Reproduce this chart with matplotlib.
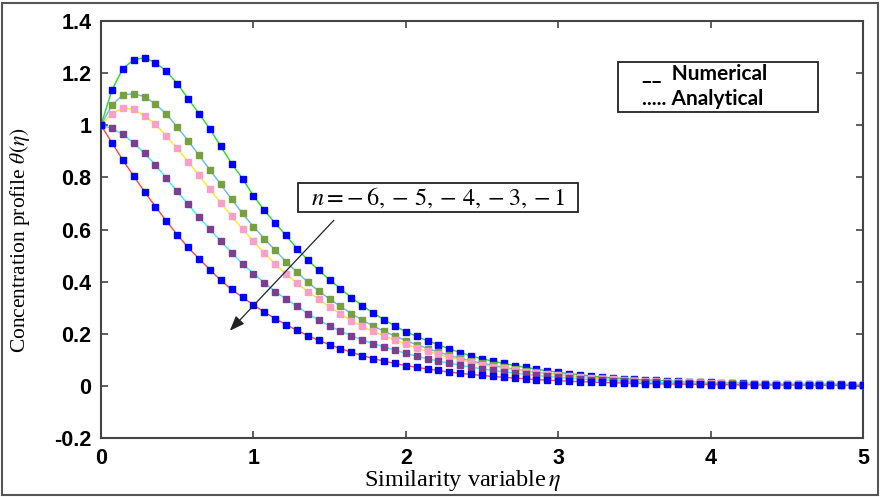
import numpy as np
import matplotlib
matplotlib.use('Agg')
import matplotlib.pyplot as plt
from matplotlib.patches import Rectangle

plt.rcParams['mathtext.fontset'] = 'stix'

# --- data (eta grid has 71 points, step 5/70) ---
eta = np.linspace(0, 5, 71)

theta_n6 = [1.000, 1.135, 1.217, 1.251, 1.259, 1.240, 1.208, 1.160, 1.102, 1.045,
            0.986, 0.919, 0.853, 0.795, 0.729, 0.674, 0.624, 0.577, 0.527, 0.483,
            0.443, 0.407, 0.373, 0.339, 0.308, 0.280, 0.254, 0.230, 0.208, 0.190,
            0.173, 0.158, 0.142, 0.128, 0.115, 0.104, 0.095, 0.086, 0.078, 0.071,
            0.064, 0.058, 0.052, 0.047, 0.043, 0.038, 0.034, 0.031, 0.028, 0.025,
            0.023, 0.021, 0.019, 0.017, 0.015, 0.014, 0.013, 0.012, 0.011, 0.010,
            0.009, 0.009, 0.008, 0.008, 0.007, 0.007, 0.006, 0.006, 0.006, 0.005,
            0.005]
theta_n5 = [1.000, 1.077, 1.117, 1.121, 1.110, 1.081, 1.044, 0.993, 0.941, 0.885,
            0.829, 0.773, 0.716, 0.662, 0.611, 0.565, 0.520, 0.477, 0.436, 0.398,
            0.364, 0.333, 0.305, 0.277, 0.252, 0.230, 0.210, 0.191, 0.174, 0.158,
            0.143, 0.130, 0.117, 0.106, 0.096, 0.087, 0.079, 0.071, 0.064, 0.058,
            0.052, 0.047, 0.043, 0.039, 0.035, 0.032, 0.029, 0.026, 0.024, 0.022,
            0.020, 0.018, 0.016, 0.015, 0.014, 0.013, 0.012, 0.011, 0.010, 0.009,
            0.009, 0.008, 0.008, 0.007, 0.007, 0.006, 0.006, 0.006, 0.005, 0.005,
            0.005]
theta_n4 = [1.000, 1.044, 1.066, 1.061, 1.035, 1.004, 0.959, 0.911, 0.860, 0.808,
            0.754, 0.703, 0.651, 0.602, 0.555, 0.510, 0.467, 0.429, 0.394, 0.362,
            0.332, 0.303, 0.276, 0.250, 0.228, 0.209, 0.192, 0.176, 0.160, 0.146,
            0.133, 0.121, 0.110, 0.100, 0.091, 0.082, 0.074, 0.067, 0.061, 0.055,
            0.050, 0.045, 0.041, 0.037, 0.033, 0.030, 0.027, 0.025, 0.022, 0.020,
            0.018, 0.017, 0.015, 0.014, 0.013, 0.012, 0.011, 0.010, 0.009, 0.009,
            0.008, 0.008, 0.007, 0.007, 0.006, 0.006, 0.006, 0.005, 0.005, 0.005,
            0.005]
theta_n3 = [1.000, 0.988, 0.965, 0.933, 0.892, 0.848, 0.797, 0.746, 0.697, 0.647,
            0.601, 0.555, 0.511, 0.468, 0.431, 0.396, 0.362, 0.333, 0.306, 0.277,
            0.252, 0.230, 0.210, 0.193, 0.177, 0.162, 0.150, 0.137, 0.125, 0.114,
            0.104, 0.095, 0.087, 0.079, 0.072, 0.065, 0.059, 0.054, 0.049, 0.044,
            0.040, 0.036, 0.033, 0.030, 0.027, 0.024, 0.022, 0.020, 0.018, 0.016,
            0.015, 0.014, 0.012, 0.011, 0.010, 0.009, 0.009, 0.008, 0.007, 0.007,
            0.006, 0.006, 0.005, 0.005, 0.005, 0.004, 0.004, 0.004, 0.004, 0.003,
            0.003]
theta_n1 = [1.000, 0.933, 0.867, 0.805, 0.745, 0.688, 0.633, 0.580, 0.531, 0.488,
            0.446, 0.405, 0.370, 0.340, 0.311, 0.283, 0.258, 0.235, 0.213, 0.193,
            0.175, 0.158, 0.143, 0.129, 0.116, 0.105, 0.095, 0.086, 0.078, 0.071,
            0.065, 0.059, 0.053, 0.048, 0.044, 0.040, 0.036, 0.033, 0.030, 0.027,
            0.024, 0.022, 0.020, 0.018, 0.016, 0.015, 0.013, 0.012, 0.011, 0.010,
            0.009, 0.008, 0.007, 0.007, 0.006, 0.006, 0.005, 0.005, 0.004, 0.004,
            0.004, 0.003, 0.003, 0.003, 0.003, 0.002, 0.002, 0.002, 0.002, 0.002,
            0.002]

profiles = [theta_n6, theta_n5, theta_n4, theta_n3, theta_n1]
line_colors = ['#22DD22', '#66B8EE', '#FFE81A', '#33EEFF', '#FF4444']
marker_colors = ['#0000FF', '#77A040', '#F8A0C8', '#7B3F8F', '#0000FF']

fig = plt.figure(figsize=(8.82, 4.97), dpi=100)
ax = fig.add_axes([101 / 882, 1 - 438 / 497, 762 / 882, 417 / 497])

for prof, lc, mc in zip(profiles, line_colors, marker_colors):
    ax.plot(eta, prof, color=lc, linewidth=1.0, zorder=2)
    ax.plot(eta, prof, linestyle='none', marker='s', markersize=3.8,
            markerfacecolor=mc, markeredgecolor=mc, zorder=3)

ax.set_xlim(0, 5)
ax.set_ylim(-0.2, 1.4)
ax.set_xticks([0, 1, 2, 3, 4, 5])
ax.set_yticks([-0.2, 0, 0.2, 0.4, 0.6, 0.8, 1.0, 1.2, 1.4])
ax.set_xticklabels(['0', '1', '2', '3', '4', '5'])
ax.set_yticklabels(['-0.2', '0', '0.2', '0.4', '0.6', '0.8', '1', '1.2', '1.4'])
ax.tick_params(direction='in', top=True, right=True, length=5, width=1.2,
               color='#444444', pad=7)
for lab in ax.get_xticklabels() + ax.get_yticklabels():
    lab.set_fontfamily('Liberation Sans')
    lab.set_fontweight('bold')
    lab.set_fontsize(15.5)
for sp in ax.spines.values():
    sp.set_linewidth(1.5)
    sp.set_color('#444444')

ax.set_xlabel(r'Similarity variable$\,\eta$', fontfamily='Liberation Serif',
              fontsize=17.5, va='center')
ax.xaxis.set_label_coords(0.474, -0.103)
ax.set_ylabel(r'Concentration profile $\theta(\eta)$', fontfamily='Liberation Serif',
              fontsize=15.5, va='center')
ax.yaxis.set_label_coords(-0.106, 0.475)

# legend box (text only, as in the figure)
ax.add_patch(Rectangle((3.394, 1.051), 1.313, 0.192, facecolor='white',
                       edgecolor='#222222', linewidth=1.3, zorder=5))
ax.text(3.55, 1.195, '__  Numerical', ha='left', va='center',
        fontfamily='Lato', fontweight='bold', fontsize=15, zorder=6)
ax.text(3.55, 1.100, '..... Analytical', ha='left', va='center',
        fontfamily='Lato', fontweight='bold', fontsize=15, zorder=6)

# parameter annotation with arrow
ax.annotate('', xy=(0.833, 0.204), xytext=(1.54, 0.643),
            arrowprops=dict(arrowstyle='-|>,head_length=0.9,head_width=0.35',
                            color='#222222', lw=0.9), zorder=4)
ax.add_patch(Rectangle((1.295, 0.666), 1.833, 0.113, facecolor='white',
                       edgecolor='#222222', linewidth=1.3, zorder=5))
ax.text(2.21, 0.722, r'$n = -\,6, -\,5, -\,4, -3, -1$', ha='center', va='center',
        fontsize=17.5, zorder=6)

fig.patches.append(Rectangle((0.002, 0.004), 0.994, 0.99, transform=fig.transFigure,
                             fill=False, edgecolor='#555555', linewidth=1.5))

fig.savefig('out.png', dpi=100)
